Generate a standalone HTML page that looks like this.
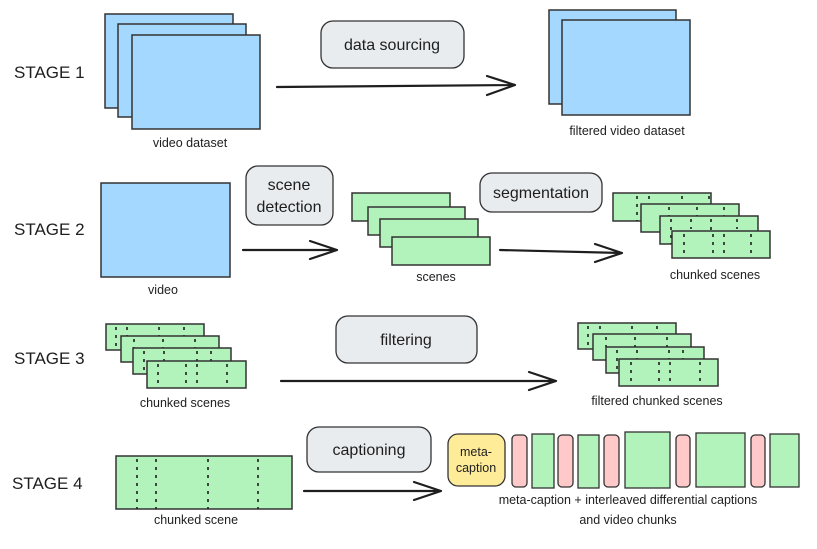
<!DOCTYPE html>
<html><head><meta charset="utf-8"><style>
html,body{margin:0;padding:0;background:#fff}
svg{display:block;font-family:"Liberation Sans",sans-serif}
</style></head><body>
<svg width="817" height="549" viewBox="0 0 817 549" xmlns="http://www.w3.org/2000/svg">
<g font-size="17" fill="#1e1e1e">
<text x="14" y="78">STAGE 1</text>
<text x="14" y="235">STAGE 2</text>
<text x="14" y="364">STAGE 3</text>
<text x="12" y="489">STAGE 4</text>
</g>
<g stroke="#333" stroke-width="1.5" fill="#a5d8ff">
<rect x="105" y="14" width="128" height="94"/>
<rect x="118" y="24" width="128" height="93"/>
<rect x="132" y="35" width="128" height="94"/>
<rect x="549" y="10" width="127" height="94"/>
<rect x="562" y="20" width="128" height="95"/>
<rect x="101" y="183" width="129" height="94"/>
</g>
<g font-size="12.5" fill="#1e1e1e" text-anchor="middle">
<text x="190" y="147">video dataset</text>
<text x="627" y="135">filtered video dataset</text>
<text x="163" y="294">video</text>
<text x="436" y="281">scenes</text>
<text x="715" y="279">chunked scenes</text>
<text x="185" y="407">chunked scenes</text>
<text x="657" y="405">filtered chunked scenes</text>
<text x="196" y="524">chunked scene</text>
<text x="628" y="504">meta-caption + interleaved differential captions</text>
<text x="628" y="524">and video chunks</text>
</g>
<g fill="#e9ecef" stroke="#333" stroke-width="1.3">
<rect x="321" y="21" width="143" height="47" rx="12"/>
<rect x="246" y="166" width="87" height="59" rx="12"/>
<rect x="480" y="173" width="122" height="39" rx="12"/>
<rect x="336" y="316" width="141" height="47" rx="12"/>
<rect x="307" y="427" width="124" height="45" rx="12"/>
</g>
<g font-size="16" fill="#1e1e1e" text-anchor="middle">
<text x="392" y="50">data sourcing</text>
<text x="289" y="190">scene</text>
<text x="289" y="212">detection</text>
<text x="541" y="198">segmentation</text>
<text x="406" y="345">filtering</text>
<text x="369" y="455">captioning</text>
</g>
<g stroke="#1e1e1e" stroke-width="2.2" fill="none" stroke-linecap="round" stroke-linejoin="round">
<path d="M277 87 L515 85 M487 76 L515 85 L487 95"/>
<path d="M243 250 L337 250 M310 241 L337 250 L310 259"/>
<path d="M500 250 L622 253 M595 244 L622 253 L595 262"/>
<path d="M281 381 L556 381 M529 372 L556 381 L529 390"/>
<path d="M304 491 L441 491 M414 482 L441 491 L414 500"/>
</g>
<g fill="#b2f2bb" stroke="#333" stroke-width="1.5">
<rect x="352" y="193" width="98" height="28"/>
<rect x="368" y="207" width="97" height="28"/>
<rect x="380" y="219" width="98" height="28"/>
<rect x="392" y="237" width="98" height="28"/>
</g>
<g stroke="#1e1e1e" stroke-width="1.6">
<rect x="613" y="193" width="98" height="28" fill="#b2f2bb" stroke="#333" stroke-width="1.5"/>
<path d="M637 196V221 M649 196V206 M682 196V206 M709 196V206" stroke-dasharray="3,5"/>
<rect x="641" y="204" width="98" height="28" fill="#b2f2bb" stroke="#333" stroke-width="1.5"/>
<path d="M669 207V217 M697 207V217 M724 207V217" stroke-dasharray="3,5"/>
<rect x="660" y="216" width="98" height="28" fill="#b2f2bb" stroke="#333" stroke-width="1.5"/>
<path d="M671 219V244 M691 219V229 M711 219V244 M737 219V229" stroke-dasharray="3,5"/>
<rect x="672" y="231" width="98" height="27" fill="#b2f2bb" stroke="#333" stroke-width="1.5"/>
<path d="M684 234V258 M713 234V258 M724 234V258 M751 234V258" stroke-dasharray="3,5"/>

<rect x="106" y="324" width="98" height="26" fill="#b2f2bb" stroke="#333" stroke-width="1.5"/>
<path d="M116 327V350 M127 327V337 M159 327V337 M184 327V337" stroke-dasharray="3,5"/>
<rect x="121" y="336" width="98" height="26" fill="#b2f2bb" stroke="#333" stroke-width="1.5"/>
<path d="M134 339V349 M163 339V349 M195 339V349" stroke-dasharray="3,5"/>
<rect x="133" y="348" width="98" height="26" fill="#b2f2bb" stroke="#333" stroke-width="1.5"/>
<path d="M144 351V374 M164 351V374 M197 351V374 M211 351V361" stroke-dasharray="3,5"/>
<rect x="147" y="361" width="99" height="27" fill="#b2f2bb" stroke="#333" stroke-width="1.5"/>
<path d="M158 364V388 M186 364V388 M197 364V388 M227 364V388" stroke-dasharray="3,5"/>

<rect x="578" y="323" width="98" height="26" fill="#b2f2bb" stroke="#333" stroke-width="1.5"/>
<path d="M588 326V349 M600 326V336 M632 326V336 M657 326V336" stroke-dasharray="3,5"/>
<rect x="593" y="334" width="98" height="26" fill="#b2f2bb" stroke="#333" stroke-width="1.5"/>
<path d="M606 337V347 M635 337V347 M667 337V347" stroke-dasharray="3,5"/>
<rect x="606" y="347" width="98" height="26" fill="#b2f2bb" stroke="#333" stroke-width="1.5"/>
<path d="M617 350V373 M637 350V373 M669 350V373 M683 350V360" stroke-dasharray="3,5"/>
<rect x="619" y="359" width="99" height="27" fill="#b2f2bb" stroke="#333" stroke-width="1.5"/>
<path d="M631 362V386 M659 362V386 M670 362V386 M700 362V386" stroke-dasharray="3,5"/>

<rect x="116" y="456" width="176" height="53" fill="#b2f2bb" stroke="#333" stroke-width="1.5"/>
<path d="M137 459V509 M156 459V509 M208 459V509 M258 459V509" stroke-dasharray="3,5"/>
</g>
<rect x="448" y="434" width="57" height="52" rx="10" fill="#ffec99" stroke="#333" stroke-width="1.3"/>
<text x="476" y="456" font-size="12.5" text-anchor="middle" fill="#1e1e1e">meta-</text>
<text x="476" y="472" font-size="12.5" text-anchor="middle" fill="#1e1e1e">caption</text>
<g fill="#ffc9c9" stroke="#333" stroke-width="1.3">
<rect x="512" y="435" width="15" height="52" rx="4"/>
<rect x="558" y="435" width="15" height="52" rx="4"/>
<rect x="604" y="435" width="15" height="52" rx="4"/>
<rect x="676" y="435" width="14" height="52" rx="4"/>
<rect x="751" y="435" width="14" height="52" rx="4"/>
</g>
<g fill="#b2f2bb" stroke="#333" stroke-width="1.3">
<rect x="532" y="434" width="22" height="54"/>
<rect x="578" y="435" width="21" height="53"/>
<rect x="625" y="432" width="45" height="56"/>
<rect x="696" y="433" width="49" height="54"/>
<rect x="770" y="434" width="29" height="53"/>
</g>
</svg>
</body></html>
